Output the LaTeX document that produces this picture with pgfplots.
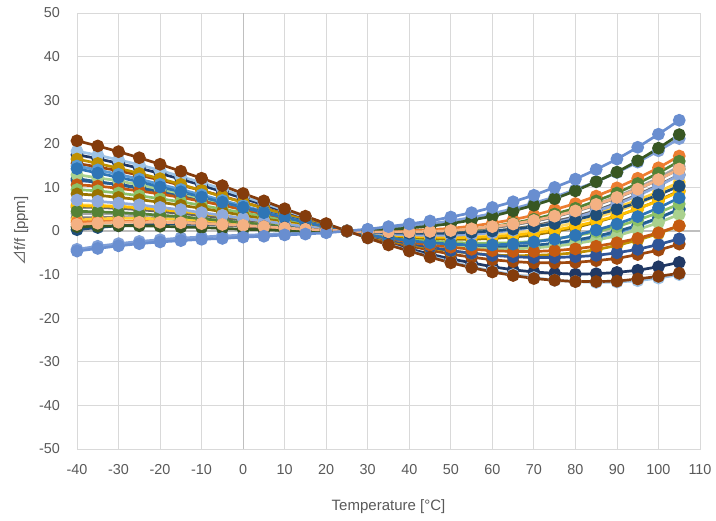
\documentclass[border=0pt]{standalone}
\usepackage{fontspec}
\setmainfont{Liberation Sans}
\newfontfamily\cjk{Noto Sans CJK JP}
\usepackage{pgfplots}
\pgfplotsset{compat=1.18}

\definecolor{txt}{HTML}{595959}
\definecolor{grd}{HTML}{D9D9D9}
\definecolor{zax}{HTML}{BFBFBF}

% one colour per crystal sample (Excel palette)
\definecolor{c843C0C}{HTML}{843C0C}
\definecolor{c9DC3E6}{HTML}{9DC3E6}
\definecolor{c203864}{HTML}{203864}
\definecolor{c9E480E}{HTML}{9E480E}
\definecolor{cBF9000}{HTML}{BF9000}
\definecolor{c5B9BD5}{HTML}{5B9BD5}
\definecolor{c2E75B6}{HTML}{2E75B6}
\definecolor{cA9D18E}{HTML}{A9D18E}
\definecolor{c255E91}{HTML}{255E91}
\definecolor{c2F5597}{HTML}{2F5597}
\definecolor{cC55A11}{HTML}{C55A11}
\definecolor{c8CC168}{HTML}{8CC168}
\definecolor{c997300}{HTML}{997300}
\definecolor{c8FAADC}{HTML}{8FAADC}
\definecolor{cFFD966}{HTML}{FFD966}
\definecolor{c636363}{HTML}{636363}
\definecolor{cFFC000}{HTML}{FFC000}
\definecolor{c548235}{HTML}{548235}
\definecolor{cA5A5A5}{HTML}{A5A5A5}
\definecolor{c7F7F7F}{HTML}{7F7F7F}
\definecolor{cFFCD33}{HTML}{FFCD33}
\definecolor{cED7D31}{HTML}{ED7D31}
\definecolor{cF4B183}{HTML}{F4B183}
\definecolor{c385723}{HTML}{385723}
\definecolor{c1F4E79}{HTML}{1F4E79}
\definecolor{c7F9FD8}{HTML}{7F9FD8}
\definecolor{c698ED0}{HTML}{698ED0}

\newcommand{\ser}[2]{\addplot[color=#1, line width=1.35pt, mark=*, mark size=2.5pt,
  mark options={fill=#1, draw=#1, solid}] coordinates {#2};}

\begin{document}
\begin{tikzpicture}
\useasboundingbox (-38.5pt,-35.5pt) rectangle (319.5pt,224.5pt);
\begin{axis}[
  anchor=south west, at={(0,0)},
  scale only axis, width=311.5pt, height=218pt,
  xmin=-40, xmax=110, ymin=-50, ymax=50,
  xtick distance=10, ytick distance=10,
  grid=major, major grid style={grd, line width=0.4pt},
  axis line style={grd, line width=0.4pt},
  major tick length=0pt,
  tick label style={font=\fontsize{7.2}{8}\selectfont, text=txt},
  /pgf/number format/assume math mode=true,
  xticklabel style={yshift=-4pt},
  yticklabel style={xshift=-5pt},
  xlabel={Temperature [°C]},
  ylabel={{\cjk ⊿}f/f [ppm]},
  label style={font=\fontsize{7.5}{9}\selectfont, text=txt},
  xlabel style={at={(axis description cs:0.5,-0.132)}, anchor=center},
  ylabel style={at={(axis description cs:-0.09,0.5)}, anchor=center},
]
\draw[zax, line width=0.5pt] (axis cs:0,-50) -- (axis cs:0,50);
\draw[zax, line width=0.5pt] (axis cs:-40,0) -- (axis cs:110,0);

\ser{c203864}{(-40,17.5)(-35,16.6)(-30,15.5)(-25,14.4)(-20,13.2)(-15,11.9)(-10,10.5)(-5,9.0)(0,7.5)(5,6.0)(10,4.5)(15,3.0)(20,1.5)(25,0)(30,-1.4)(35,-2.8)(40,-4.1)(45,-5.3)(50,-6.4)(55,-7.3)(60,-8.2)(65,-8.9)(70,-9.4)(75,-9.7)(80,-9.9)(85,-9.8)(90,-9.5)(95,-9.0)(100,-8.2)(105,-7.2)}
\ser{c9DC3E6}{(-40,18.3)(-35,17.4)(-30,16.3)(-25,15.2)(-20,13.9)(-15,12.5)(-10,11.1)(-5,9.6)(0,8.0)(5,6.4)(10,4.8)(15,3.2)(20,1.6)(25,0)(30,-1.6)(35,-3.0)(40,-4.5)(45,-5.8)(50,-7.0)(55,-8.2)(60,-9.2)(65,-10.0)(70,-10.7)(75,-11.3)(80,-11.6)(85,-11.8)(90,-11.7)(95,-11.4)(100,-10.8)(105,-10.0)}
\ser{c9E480E}{(-40,15.5)(-35,14.7)(-30,13.8)(-25,12.8)(-20,11.7)(-15,10.5)(-10,9.3)(-5,8.0)(0,6.6)(5,5.3)(10,3.9)(15,2.6)(20,1.3)(25,0)(30,-1.2)(35,-2.4)(40,-3.4)(45,-4.4)(50,-5.3)(55,-6.0)(60,-6.6)(65,-7.0)(70,-7.3)(75,-7.3)(80,-7.2)(85,-6.8)(90,-6.3)(95,-5.4)(100,-4.4)(105,-3.0)}
\ser{cBF9000}{(-40,16.5)(-35,15.5)(-30,14.4)(-25,13.2)(-20,12.0)(-15,10.7)(-10,9.3)(-5,7.9)(0,6.6)(5,5.2)(10,3.8)(15,2.5)(20,1.2)(25,0)(30,-1.1)(35,-2.2)(40,-3.1)(45,-3.9)(50,-4.6)(55,-5.1)(60,-5.5)(65,-5.7)(70,-5.6)(75,-5.4)(80,-5.0)(85,-4.3)(90,-3.3)(95,-2.1)(100,-0.6)(105,1.2)}
\ser{c5B9BD5}{(-40,14.9)(-35,14.0)(-30,13.0)(-25,11.9)(-20,10.7)(-15,9.5)(-10,8.3)(-5,7.0)(0,5.8)(5,4.5)(10,3.3)(15,2.2)(20,1.0)(25,0)(30,-1.0)(35,-1.8)(40,-2.5)(45,-3.2)(50,-3.6)(55,-3.9)(60,-4.1)(65,-4.0)(70,-3.7)(75,-3.3)(80,-2.6)(85,-1.6)(90,-0.4)(95,1.1)(100,2.9)(105,5.0)}
\ser{c2F5597}{(-40,11.6)(-35,11.2)(-30,10.7)(-25,10.0)(-20,9.3)(-15,8.4)(-10,7.5)(-5,6.5)(0,5.4)(5,4.4)(10,3.3)(15,2.2)(20,1.1)(25,0)(30,-1.0)(35,-2.0)(40,-2.9)(45,-3.7)(50,-4.5)(55,-5.1)(60,-5.6)(65,-5.9)(70,-6.1)(75,-6.1)(80,-5.9)(85,-5.6)(90,-5.0)(95,-4.2)(100,-3.1)(105,-1.8)}
\ser{c255E91}{(-40,12.0)(-35,11.3)(-30,10.6)(-25,9.8)(-20,9.0)(-15,8.0)(-10,7.0)(-5,6.0)(0,5.0)(5,3.9)(10,2.9)(15,1.9)(20,0.9)(25,0)(30,-0.8)(35,-1.6)(40,-2.2)(45,-2.8)(50,-3.2)(55,-3.5)(60,-3.6)(65,-3.5)(70,-3.3)(75,-2.8)(80,-2.1)(85,-1.2)(90,-0.1)(95,1.3)(100,3.0)(105,5.0)}
\ser{cA9D18E}{(-40,12.9)(-35,12.2)(-30,11.5)(-25,10.6)(-20,9.6)(-15,8.6)(-10,7.5)(-5,6.5)(0,5.3)(5,4.2)(10,3.1)(15,2.0)(20,1.0)(25,0)(30,-0.9)(35,-1.7)(40,-2.5)(45,-3.1)(50,-3.6)(55,-3.9)(60,-4.1)(65,-4.1)(70,-3.9)(75,-3.5)(80,-2.9)(85,-2.1)(90,-1.1)(95,0.3)(100,1.9)(105,3.8)}
\ser{cC55A11}{(-40,10.6)(-35,10.3)(-30,9.8)(-25,9.2)(-20,8.5)(-15,7.7)(-10,6.8)(-5,5.9)(0,4.9)(5,3.9)(10,2.9)(15,1.9)(20,1.0)(25,0)(30,-0.9)(35,-1.7)(40,-2.5)(45,-3.2)(50,-3.7)(55,-4.2)(60,-4.5)(65,-4.7)(70,-4.7)(75,-4.5)(80,-4.1)(85,-3.5)(90,-2.7)(95,-1.7)(100,-0.4)(105,1.2)}
\ser{c8CC168}{(-40,9.5)(-35,9.2)(-30,8.7)(-25,8.1)(-20,7.4)(-15,6.7)(-10,5.9)(-5,5.0)(0,4.2)(5,3.3)(10,2.4)(15,1.6)(20,0.8)(25,0)(30,-0.7)(35,-1.3)(40,-1.9)(45,-2.3)(50,-2.6)(55,-2.8)(60,-2.8)(65,-2.7)(70,-2.4)(75,-1.8)(80,-1.1)(85,-0.2)(90,1.0)(95,2.5)(100,4.2)(105,6.2)}
\ser{c997300}{(-40,8.5)(-35,8.2)(-30,7.7)(-25,7.2)(-20,6.6)(-15,5.9)(-10,5.2)(-5,4.4)(0,3.6)(5,2.8)(10,2.1)(15,1.3)(20,0.6)(25,0)(30,-0.6)(35,-1.1)(40,-1.4)(45,-1.7)(50,-1.9)(55,-1.9)(60,-1.7)(65,-1.4)(70,-0.9)(75,-0.1)(80,0.8)(85,2.0)(90,3.4)(95,5.1)(100,7.0)(105,9.2)}
\ser{cFFD966}{(-40,6.0)(-35,5.9)(-30,5.7)(-25,5.4)(-20,5.0)(-15,4.5)(-10,4.0)(-5,3.4)(0,2.8)(5,2.2)(10,1.6)(15,1.0)(20,0.5)(25,0)(30,-0.4)(35,-0.8)(40,-1.1)(45,-1.2)(50,-1.3)(55,-1.2)(60,-0.9)(65,-0.5)(70,0.1)(75,0.9)(80,1.9)(85,3.1)(90,4.5)(95,6.2)(100,8.2)(105,10.5)}
\ser{c636363}{(-40,5.5)(-35,5.4)(-30,5.2)(-25,4.9)(-20,4.5)(-15,4.0)(-10,3.6)(-5,3.0)(0,2.5)(5,1.9)(10,1.4)(15,0.9)(20,0.4)(25,0)(30,-0.3)(35,-0.6)(40,-0.8)(45,-0.8)(50,-0.7)(55,-0.5)(60,-0.1)(65,0.5)(70,1.2)(75,2.2)(80,3.3)(85,4.7)(90,6.4)(95,8.3)(100,10.5)(105,12.9)}
\ser{cFFC000}{(-40,5.8)(-35,5.7)(-30,5.6)(-25,5.3)(-20,4.9)(-15,4.5)(-10,4.0)(-5,3.5)(0,2.9)(5,2.3)(10,1.7)(15,1.1)(20,0.5)(25,0)(30,-0.5)(35,-0.9)(40,-1.2)(45,-1.4)(50,-1.5)(55,-1.5)(60,-1.3)(65,-1.0)(70,-0.5)(75,0.2)(80,1.1)(85,2.2)(90,3.5)(95,5.1)(100,6.9)(105,9.0)}
\ser{cA5A5A5}{(-40,4.0)(-35,4.0)(-30,3.9)(-25,3.7)(-20,3.5)(-15,3.1)(-10,2.8)(-5,2.3)(0,1.9)(5,1.5)(10,1.1)(15,0.7)(20,0.3)(25,0)(30,-0.2)(35,-0.4)(40,-0.4)(45,-0.3)(50,-0.1)(55,0.2)(60,0.7)(65,1.4)(70,2.3)(75,3.3)(80,4.6)(85,6.1)(90,7.9)(95,9.9)(100,12.2)(105,14.8)}
\ser{c7F7F7F}{(-40,3.0)(-35,3.1)(-30,3.1)(-25,3.0)(-20,2.9)(-15,2.6)(-10,2.3)(-5,2.0)(0,1.7)(5,1.3)(10,0.9)(15,0.6)(20,0.3)(25,0)(30,-0.2)(35,-0.3)(40,-0.4)(45,-0.3)(50,-0.1)(55,0.2)(60,0.7)(65,1.4)(70,2.2)(75,3.2)(80,4.5)(85,5.9)(90,7.6)(95,9.5)(100,11.8)(105,14.2)}
\ser{cFFCD33}{(-40,2.5)(-35,2.8)(-30,2.9)(-25,2.9)(-20,2.8)(-15,2.7)(-10,2.4)(-5,2.1)(0,1.8)(5,1.4)(10,1.1)(15,0.7)(20,0.3)(25,0)(30,-0.3)(35,-0.5)(40,-0.6)(45,-0.7)(50,-0.6)(55,-0.4)(60,-0.1)(65,0.4)(70,1.0)(75,1.8)(80,2.8)(85,4.0)(90,5.4)(95,7.1)(100,9.0)(105,11.2)}
\ser{cED7D31}{(-40,2.0)(-35,2.2)(-30,2.2)(-25,2.2)(-20,2.1)(-15,1.9)(-10,1.7)(-5,1.4)(0,1.1)(5,0.8)(10,0.6)(15,0.3)(20,0.1)(25,0)(30,-0.1)(35,-0.1)(40,0.1)(45,0.3)(50,0.6)(55,1.1)(60,1.8)(65,2.6)(70,3.6)(75,4.9)(80,6.3)(85,8.0)(90,9.9)(95,12.1)(100,14.5)(105,17.2)}
\ser{c548235}{(-40,4.5)(-35,4.4)(-30,4.2)(-25,4.0)(-20,3.6)(-15,3.3)(-10,2.8)(-5,2.4)(0,1.9)(5,1.5)(10,1.0)(15,0.6)(20,0.3)(25,0)(30,-0.2)(35,-0.3)(40,-0.3)(45,-0.2)(50,0.0)(55,0.4)(60,1.0)(65,1.8)(70,2.7)(75,3.9)(80,5.2)(85,6.9)(90,8.7)(95,10.9)(100,13.3)(105,16.0)}
\ser{c8FAADC}{(-40,7.1)(-35,6.8)(-30,6.4)(-25,6.0)(-20,5.4)(-15,4.9)(-10,4.2)(-5,3.6)(0,2.9)(5,2.3)(10,1.6)(15,1.0)(20,0.5)(25,0)(30,-0.4)(35,-0.7)(40,-0.9)(45,-1.0)(50,-1.0)(55,-0.8)(60,-0.4)(65,0.2)(70,0.9)(75,1.9)(80,3.0)(85,4.5)(90,6.1)(95,8.1)(100,10.3)(105,12.8)}
\ser{c2E75B6}{(-40,14.3)(-35,13.3)(-30,12.3)(-25,11.3)(-20,10.1)(-15,9.0)(-10,7.8)(-5,6.6)(0,5.4)(5,4.2)(10,3.1)(15,2.0)(20,0.9)(25,0)(30,-0.9)(35,-1.6)(40,-2.2)(45,-2.7)(50,-3.0)(55,-3.2)(60,-3.2)(65,-3.0)(70,-2.5)(75,-1.9)(80,-1.0)(85,0.2)(90,1.6)(95,3.3)(100,5.3)(105,7.6)}
\ser{c1F4E79}{(-40,0.3)(-35,0.8)(-30,1.2)(-25,1.4)(-20,1.6)(-15,1.6)(-10,1.5)(-5,1.4)(0,1.2)(5,1.0)(10,0.8)(15,0.5)(20,0.2)(25,0)(30,-0.2)(35,-0.4)(40,-0.5)(45,-0.5)(50,-0.5)(55,-0.3)(60,0.0)(65,0.4)(70,1.0)(75,1.7)(80,2.6)(85,3.7)(90,5.0)(95,6.5)(100,8.3)(105,10.3)}
\ser{c7F9FD8}{(-40,-4.2)(-35,-3.5)(-30,-2.9)(-25,-2.4)(-20,-2.0)(-15,-1.6)(-10,-1.4)(-5,-1.1)(0,-1.0)(5,-0.8)(10,-0.6)(15,-0.4)(20,-0.3)(25,0)(30,0.3)(35,0.7)(40,1.1)(45,1.7)(50,2.3)(55,3.1)(60,4.0)(65,5.1)(70,6.4)(75,7.8)(80,9.5)(85,11.3)(90,13.4)(95,15.8)(100,18.4)(105,21.2)}
\ser{c385723}{(-40,1.0)(-35,1.1)(-30,1.2)(-25,1.2)(-20,1.1)(-15,0.9)(-10,0.8)(-5,0.6)(0,0.4)(5,0.3)(10,0.1)(15,0.0)(20,0.0)(25,0)(30,0.1)(35,0.3)(40,0.7)(45,1.1)(50,1.7)(55,2.5)(60,3.4)(65,4.6)(70,5.9)(75,7.4)(80,9.2)(85,11.3)(90,13.5)(95,16.1)(100,19.0)(105,22.1)}
\ser{cF4B183}{(-40,1.5)(-35,1.8)(-30,2.0)(-25,2.0)(-20,2.0)(-15,1.9)(-10,1.7)(-5,1.5)(0,1.3)(5,1.0)(10,0.7)(15,0.4)(20,0.2)(25,0)(30,-0.2)(35,-0.2)(40,-0.2)(45,-0.1)(50,0.1)(55,0.5)(60,1.0)(65,1.6)(70,2.4)(75,3.4)(80,4.6)(85,6.1)(90,7.7)(95,9.6)(100,11.8)(105,14.2)}
\ser{c698ED0}{(-40,-4.6)(-35,-4.0)(-30,-3.4)(-25,-2.9)(-20,-2.5)(-15,-2.2)(-10,-1.9)(-5,-1.7)(0,-1.4)(5,-1.2)(10,-0.9)(15,-0.7)(20,-0.4)(25,0)(30,0.4)(35,1.0)(40,1.6)(45,2.3)(50,3.2)(55,4.2)(60,5.4)(65,6.7)(70,8.2)(75,10.0)(80,11.9)(85,14.1)(90,16.5)(95,19.2)(100,22.2)(105,25.4)}
\ser{c843C0C}{(-40,20.7)(-35,19.5)(-30,18.2)(-25,16.8)(-20,15.3)(-15,13.7)(-10,12.1)(-5,10.4)(0,8.6)(5,6.9)(10,5.1)(15,3.4)(20,1.7)(25,0)(30,-1.6)(35,-3.2)(40,-4.6)(45,-6.0)(50,-7.3)(55,-8.4)(60,-9.4)(65,-10.2)(70,-10.9)(75,-11.3)(80,-11.6)(85,-11.6)(90,-11.5)(95,-11.0)(100,-10.4)(105,-9.7)}
\end{axis}
\end{tikzpicture}
\end{document}
